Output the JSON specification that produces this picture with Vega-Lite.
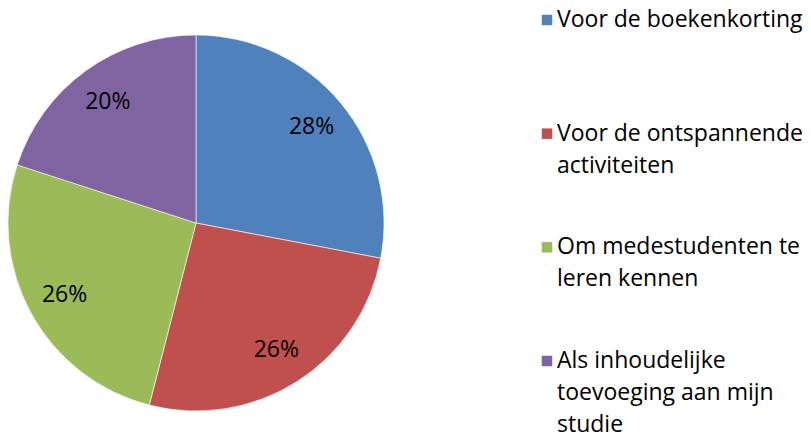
{
  "$schema": "https://vega.github.io/schema/vega-lite/v6.json",
  "padding": 0,
  "background": "white",
  "config": {"view": {"stroke": null}, "concat": {"spacing": 149}},
  "datasets": {
    "answers": [
      {"category": "Voor de boekenkorting", "label": "Voor de boekenkorting", "share": 0.28, "ord": 1},
      {"category": "Voor de ontspannende activiteiten", "label": "Voor de ontspannende\nactiviteiten", "share": 0.26, "ord": 2},
      {"category": "Om medestudenten te leren kennen", "label": "Om medestudenten te\nleren kennen", "share": 0.26, "ord": 3},
      {"category": "Als inhoudelijke toevoeging aan mijn studie", "label": "Als inhoudelijke\ntoevoeging aan mijn\nstudie", "share": 0.20, "ord": 4}
    ]
  },
  "hconcat": [
    {
      "width": 392,
      "height": 446,
      "data": {"name": "answers"},
      "encoding": {
        "theta": {"field": "share", "type": "quantitative", "stack": true},
        "order": {"field": "ord", "type": "quantitative"}
      },
      "layer": [
        {
          "mark": {"type": "arc", "outerRadius": 188, "stroke": "#ffffff", "strokeWidth": 0.6},
          "encoding": {
            "color": {
              "field": "category",
              "type": "nominal",
              "legend": null,
              "scale": {
                "domain": ["Voor de boekenkorting", "Voor de ontspannende activiteiten", "Om medestudenten te leren kennen", "Als inhoudelijke toevoeging aan mijn studie"],
                "range": ["#4F81BD", "#C0504D", "#9BBB59", "#8064A2"]
              }
            }
          }
        },
        {
          "mark": {"type": "text", "radius": 150, "font": "Open Sans", "fontSize": 23, "color": "#000000", "align": "center", "baseline": "middle"},
          "encoding": {
            "text": {"field": "share", "type": "quantitative", "format": ".0%"}
          }
        }
      ]
    },
    {
      "width": 260,
      "height": 446,
      "data": {"name": "answers"},
      "encoding": {
        "y": {
          "field": "category",
          "type": "nominal",
          "sort": {"field": "ord"},
          "axis": null,
          "scale": {"type": "point", "padding": 0, "range": [20, 361]}
        },
        "x": {"datum": 0, "type": "quantitative", "axis": null, "scale": {"domain": [0, 1]}}
      },
      "layer": [
        {
          "mark": {"type": "square", "size": 110, "opacity": 1, "filled": true},
          "encoding": {
            "color": {
              "field": "category",
              "type": "nominal",
              "legend": null,
              "scale": {
                "domain": ["Voor de boekenkorting", "Voor de ontspannende activiteiten", "Om medestudenten te leren kennen", "Als inhoudelijke toevoeging aan mijn studie"],
                "range": ["#4F81BD", "#C0504D", "#9BBB59", "#8064A2"]
              }
            }
          }
        },
        {
          "mark": {"type": "text", "font": "Open Sans", "fontSize": 23, "color": "#000000", "align": "left", "baseline": "alphabetic", "dx": 10, "dy": 7, "lineBreak": "\n", "lineHeight": 32},
          "encoding": {
            "text": {"field": "label", "type": "nominal"}
          }
        }
      ]
    }
  ]
}
